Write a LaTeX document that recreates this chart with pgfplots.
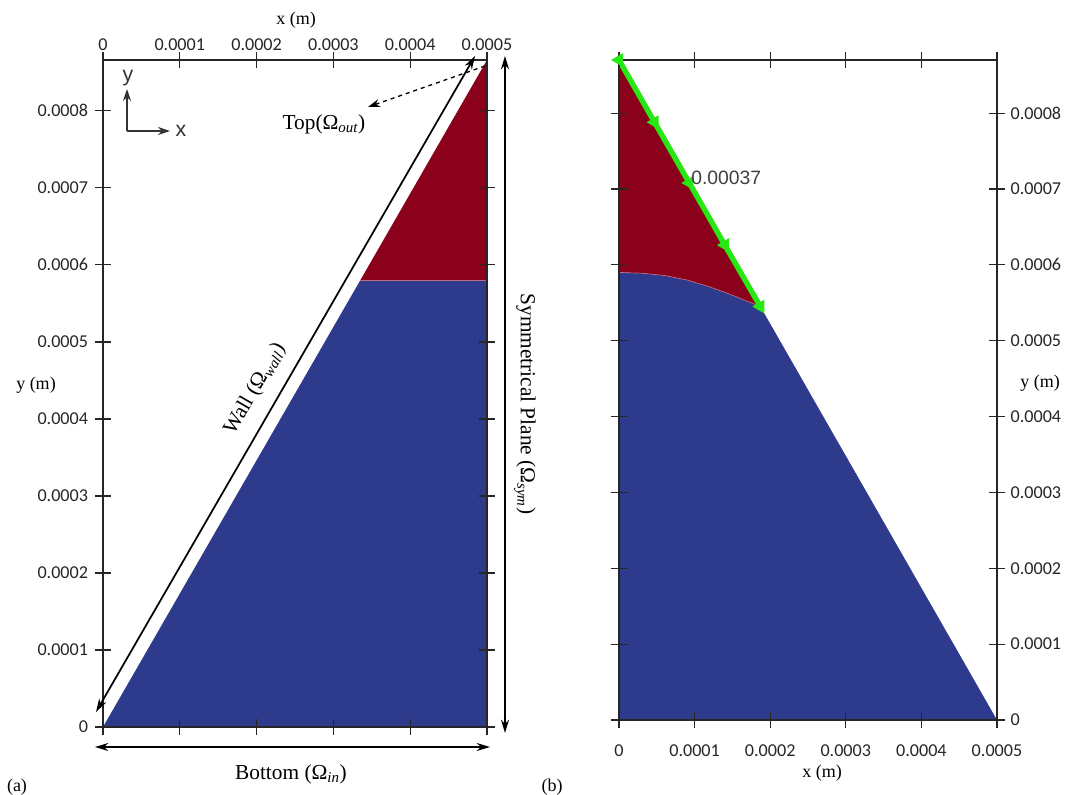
\documentclass[border=0pt]{standalone}
\usepackage{fontspec}
\usepackage{pgfplots}
\pgfplotsset{compat=1.18}
\usetikzlibrary{arrows.meta}
\setmainfont{Liberation Serif}
\newfontfamily\carlito{Carlito}
\newfontfamily\arial{Liberation Sans}
\definecolor{fblue}{RGB}{46,58,140}
\definecolor{fred}{RGB}{139,0,26}
\definecolor{fgreen}{RGB}{40,232,20}
\definecolor{iface}{RGB}{190,110,130}
\newcommand{\sub}[1]{\textsubscript{\itshape #1}}
\pgfplotsset{
  panel/.style={
    scale only axis, axis on top,
    xmin=0, xmax=0.0005, ymin=0,
    scaled ticks=false,
    xtick={0,0.0001,0.0002,0.0003,0.0004,0.0005},
    xticklabels={0,0.0001,0.0002,0.0003,0.0004,0.0005},
    ytick={0,0.0001,0.0002,0.0003,0.0004,0.0005,0.0006,0.0007,0.0008},
    yticklabels={0,0.0001,0.0002,0.0003,0.0004,0.0005,0.0006,0.0007,0.0008},
    xtick pos=both, ytick pos=both,
    tick align=center, major tick length=12pt,
    axis line style={black!85, line width=0.9pt},
    tick style={black!85, line width=0.9pt},
    tick label style={font=\carlito\fontsize{13.6}{15}\selectfont, text=black!85, inner sep=1pt},
  }
}
\begin{document}
\begin{tikzpicture}[x=0.75pt,y=0.75pt]
\path[use as bounding box] (0,0) rectangle (1067,-795);
% ---------------- panel (a)
\begin{axis}[panel, at={(77.25pt,-545.25pt)}, anchor=south west,
  width=288pt, height=500.25pt, ymax=0.000866,
  xticklabel pos=upper, yticklabel pos=lower,
  yticklabel style={xshift=-4pt}]
\addplot[fill=fblue, draw=none] coordinates {(0,0) (0.0005,0) (0.0005,0.00058) (0.000335,0.00058)};
\addplot[fill=fred, draw=none] coordinates {(0.000335,0.00058) (0.0005,0.00058) (0.0005,0.000866)};
\addplot[iface, line width=0.5pt] coordinates {(0.000335,0.00058) (0.0005,0.00058)};
\end{axis}
\node[font=\fontsize{13.5}{15}\selectfont] at (296,-20) {x (m)};
\node[font=\fontsize{13.5}{15}\selectfont] at (36,-385) {y (m)};
% coordinate indicator
\draw[-{Stealth[length=9pt,width=6pt]}, black!80, line width=1pt] (127,-131) -- (127,-89);
\draw[-{Stealth[length=9pt,width=6pt]}, black!80, line width=1pt] (127,-131) -- (170,-131);
\node[font=\arial\fontsize{16}{18}\selectfont, text=black!80] at (128,-78) {y};
\node[font=\arial\fontsize{16}{18}\selectfont, text=black!80] at (181,-131) {x};
% wall arrow
\draw[{Stealth[length=10pt,width=6pt]}-{Stealth[length=10pt,width=6pt]}, line width=1.3pt] (96,-712) -- (475,-56);
\node[rotate=60, font=\fontsize{16}{18}\selectfont] at (255,-389) {Wall (Ω\sub{wall})};
% symmetrical plane arrow
\draw[{Stealth[length=10pt,width=6pt]}-{Stealth[length=10pt,width=6pt]}, line width=1.3pt] (505,-56) -- (505,-733);
\node[rotate=-90, font=\fontsize{16}{18}\selectfont] at (525,-404) {Symmetrical Plane (Ω\sub{sym})};
% bottom arrow
\draw[{Stealth[length=10pt,width=6pt]}-{Stealth[length=10pt,width=6pt]}, line width=1.3pt] (95,-747) -- (490,-747);
\node[font=\fontsize{16}{18}\selectfont] at (291,-774) {Bottom (Ω\sub{in})};
% top
\draw[-{Stealth[length=9pt,width=6pt]}, dashed, line width=1pt] (485,-66) -- (368,-107);
\node[font=\fontsize{16}{18}\selectfont] at (324,-124) {Top(Ω\sub{out})};
\node[font=\fontsize{13.5}{15}\selectfont] at (17,-787) {(a)};
% ---------------- panel (b)
\begin{axis}[panel, at={(464.25pt,-540pt)}, anchor=south west,
  width=283.5pt, height=495pt, ymax=0.00087,
  xticklabel pos=lower, yticklabel pos=upper,
  xticklabel style={yshift=-11pt}, yticklabel style={xshift=3pt}]
\addplot[fill=fblue, draw=none] coordinates {(0,0) (0.0005,0) (0.000187,0.000545) (0.00015,0.00056) (0.00012,0.000571) (0.00009,0.00058) (0.00006,0.000586) (0.00003,0.000589) (0,0.00059)};
\addplot[fill=fred, draw=none] coordinates {(0,0.00087) (0.000187,0.000545) (0.00015,0.00056) (0.00012,0.000571) (0.00009,0.00058) (0.00006,0.000586) (0.00003,0.000589) (0,0.00059)};
\addplot[iface, line width=0.5pt] coordinates {(0.000187,0.000545) (0.00015,0.00056) (0.00012,0.000571) (0.00009,0.00058) (0.00006,0.000586) (0.00003,0.000589) (0,0.00059)};
\addplot[fgreen, line width=4pt, mark=triangle*, mark size=2pt, mark options={fgreen, rotate=-30}] coordinates {(0,0.00087) (0.000047,0.000788) (0.000093,0.000708) (0.00014,0.000626) (0.000187,0.000545)};
\end{axis}
\node[font=\arial\fontsize{14.5}{16}\selectfont, text=black!75, anchor=west, inner sep=0pt] at (691,-178) {0.00037};
\node[font=\fontsize{13.5}{15}\selectfont] at (822,-773) {x (m)};
\node[font=\fontsize{13.5}{15}\selectfont] at (1040,-383) {y (m)};
\node[font=\fontsize{13.5}{15}\selectfont] at (552,-787) {(b)};
\end{tikzpicture}
\end{document}
